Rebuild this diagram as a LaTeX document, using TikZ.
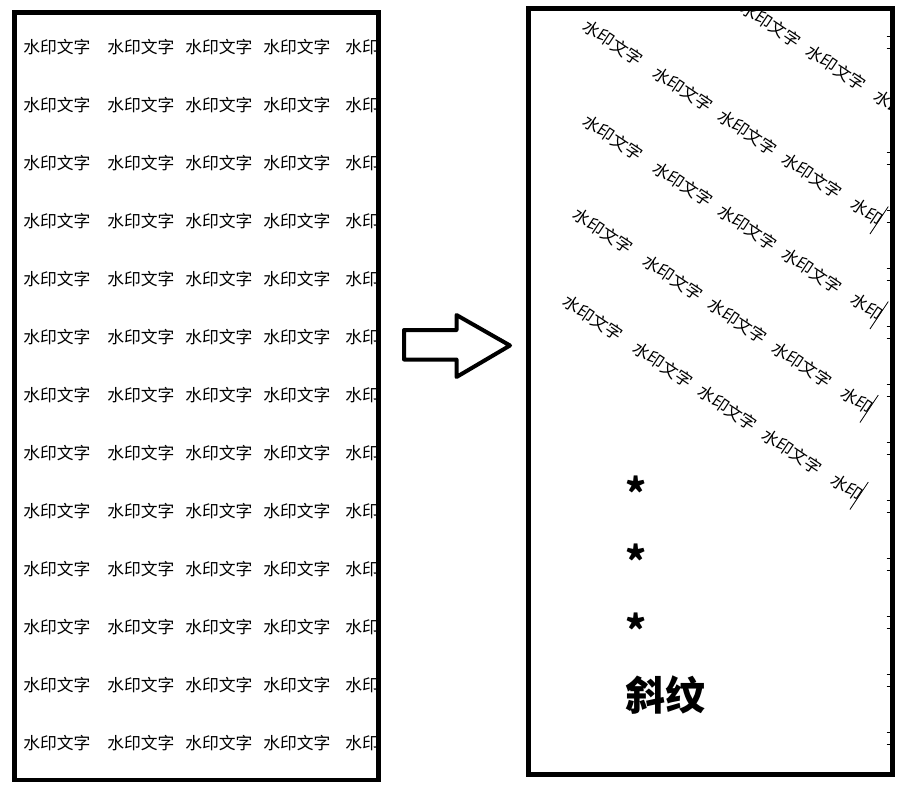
\documentclass[tikz,border=0pt]{standalone}
\usepackage{fontspec}
\newfontfamily\cjkfont{Noto Sans CJK SC}
\tikzset{
  wmtext/.style={inner sep=0pt, anchor=west, font=\cjkfont\fontsize{12.6}{15}\selectfont},
  boxframe/.style={line width=3.5pt},
  clipedge/.style={line width=0.6pt},
  edgetick/.style={line width=0.6pt},
  bigmark/.style={inner sep=0pt, anchor=base west, font=\cjkfont\bfseries\fontsize{30}{36}\selectfont},
  hollowarrow/.style={line width=3pt, line join=round}
}

\begin{document}
\begin{tikzpicture}[x=0.75pt,y=0.75pt,yscale=-1,xscale=1]
\useasboundingbox (0,0) rectangle (903,786);

% left page: straight watermark
\begin{scope}
\clip (14.3,12.5) rectangle (378.5,780);
\foreach \r in {0,...,12}{
  % Text Node
  \foreach \c/\xx in {1/23,2/107,3/185,4/263}
    \node[wmtext] (flat-\r-\c) at (\xx,{47+58*\r}) {水印文字};
  % Text Node
  \node[wmtext] (flat-\r-5) at (345,{47+58*\r}) {水印};
}
\end{scope}
%Shape: Rectangle
\draw[boxframe] (14.3,12.5) rectangle (378.5,780);

%Shape: Arrow
\draw[hollowarrow] (404,330) -- (456.5,330) -- (456.5,315) -- (510,345.5) -- (456.5,377) -- (456.5,359.5) -- (404,359.5) -- cycle;

% right page: slanted watermark
\begin{scope}
\clip (528.5,8.5) rectangle (892.5,774.5);
\foreach \r/\sx/\sy/\first in {1/608.4/-84.2/3, 2/584.6/23.9/1, 3/584.6/118.9/1, 4/574.6/212.4/1, 5/564.6/299.4/1}{
  \begin{scope}[shift={(\sx,\sy)}, rotate=33.7]
    % Text Node
    \foreach \c/\xx in {1/0,2/84,3/162,4/240}{
      \ifnum\c<\first\else
        \node[wmtext, rotate=-33.7] (slant-\r-\c) at (\xx,0) {水印文字};
      \fi
    }
    % Text Node
    \node[wmtext, rotate=-33.7] (slant-\r-5) at (322,0) {水印};
    %Straight Lines
    \coordinate (cut-\r-a) at (354,-16.5);
    \coordinate (cut-\r-b) at (354,16.5);
    \draw[clipedge] (cut-\r-a) -- (cut-\r-b);
  \end{scope}
}
\end{scope}
%Straight Lines
\foreach \k in {0,2,3,...,12}{
  \draw[edgetick] (886.5,{36+58*\k}) -- (891,{36+58*\k});
  \draw[edgetick] (886.5,{48+58*\k}) -- (891,{48+58*\k});
}
%Shape: Rectangle
\draw[boxframe] (528.5,8.5) rectangle (892.5,774.5);

% Text Node
\node[bigmark] (star-a) at (625,508) {*};
% Text Node
\node[bigmark] (star-b) at (625,576) {*};
% Text Node
\node[bigmark] (star-c) at (625,645) {*};
% Text Node
\node[bigmark] (title) at (625,710) {斜纹};

\end{tikzpicture}
\end{document}
